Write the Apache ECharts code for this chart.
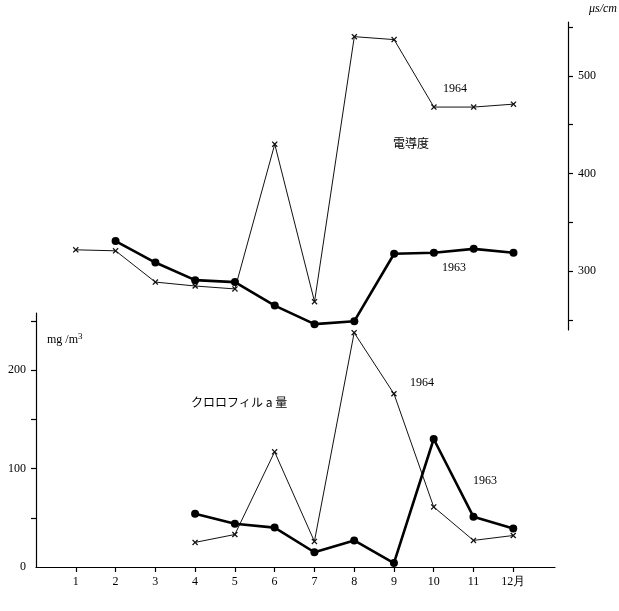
<!DOCTYPE html>
<html>
<head>
<meta charset="utf-8">
<script src="https://cdn.jsdelivr.net/npm/echarts@6/dist/echarts.min.js"></script>
<style>
  html, body { margin: 0; padding: 0; background: #fff; }
  #chart { width: 619px; height: 611px; }
</style>
</head>
<body>
<div id="chart"></div>
<script>
  // months 1..12
  const months = [1, 2, 3, 4, 5, 6, 7, 8, 9, 10, 11, 12];

  // conductivity (μs/cm)
  const cond1964 = [322, 321, 289, 285, 282, 430, 269, 540, 537, 468, 468, 471];
  const cond1963 = [null, 331, 309, 291, 289, 265, 246, 249, 318, 319, 323, 319];

  // chlorophyll a (mg/m3)
  const chl1964 = [null, null, null, 25, 33, 117, 26, 238, 176, 61, 27, 32];
  const chl1963 = [null, null, null, 54, 44, 40, 15, 27, 4, 130, 51, 39];

  const condTicks = [250, 300, 350, 400, 450, 500, 550];
  const condLabels = [300, 400, 500];
  const chlTicks = [50, 100, 150, 200, 250];
  const chlLabels = [0, 100, 200];

  const pair = (vals) => months.map((m, i) => [m, vals[i]]);

  const crossSym = 'path://M0,1.5L1.5,0L5,3.5L8.5,0L10,1.5L6.5,5L10,8.5L8.5,10L5,6.5L1.5,10L0,8.5L3.5,5Z';
  const serif = 'Liberation Serif';

  const thin = (name, data, xi, yi) => ({
    name: name, type: 'line', xAxisIndex: xi, yAxisIndex: yi,
    data: pair(data), symbol: crossSym, symbolSize: 6,
    lineStyle: { color: '#111', width: 1 },
    itemStyle: { color: '#111' },
    connectNulls: false, animation: false
  });
  const thick = (name, data, xi, yi) => ({
    name: name, type: 'line', xAxisIndex: xi, yAxisIndex: yi,
    data: pair(data), symbol: 'circle', symbolSize: 8,
    lineStyle: { color: '#000', width: 2.6 },
    itemStyle: { color: '#000' },
    connectNulls: false, animation: false
  });

  const lineStyle = { color: '#000', width: 1.2 };

  const chart = echarts.init(document.getElementById('chart'));
  chart.setOption({
    backgroundColor: '#fff',
    animation: false,
    grid: [
      { left: 36, right: 51, top: 22, bottom: 281 },
      { left: 36, right: 64, top: 313, bottom: 44 }
    ],
    xAxis: [
      { gridIndex: 0, type: 'value', min: 0, max: 13.37, show: false },
      {
        gridIndex: 1, type: 'value', min: 0, max: 13.05,
        axisLine: { onZero: false, lineStyle: lineStyle },
        axisTick: { customValues: months, length: 5, lineStyle: lineStyle },
        axisLabel: {
          customValues: months, color: '#000', fontFamily: serif, fontSize: 12, margin: 9,
          formatter: (v) => (v === 12 ? '12月' : String(v))
        },
        splitLine: { show: false }
      }
    ],
    yAxis: [
      {
        gridIndex: 0, type: 'value', position: 'right', min: 240, max: 555,
        axisLine: { show: true, onZero: false, lineStyle: lineStyle },
        axisTick: { show: true, customValues: condTicks, length: 5, lineStyle: lineStyle },
        axisLabel: { customValues: condLabels, color: '#000', fontFamily: serif, fontSize: 12, margin: 10 },
        splitLine: { show: false }
      },
      {
        gridIndex: 1, type: 'value', min: 0, max: 258,
        axisLine: { show: true, onZero: false, lineStyle: lineStyle },
        axisTick: { show: true, customValues: chlTicks, length: 5, lineStyle: lineStyle },
        axisLabel: { customValues: chlLabels, color: '#000', fontFamily: serif, fontSize: 12, margin: 10 },
        splitLine: { show: false }
      }
    ],
    graphic: [
      { type: 'text', left: 589, top: 3, style: { text: 'μs/cm', fill: '#000', font: 'italic 12px "Liberation Serif"' } },
      { type: 'text', left: 47, top: 332, style: {
          text: 'mg /m{s|3}', fill: '#000', font: '12px "Liberation Serif"',
          rich: { s: { fontSize: 9, verticalAlign: 'top', padding: [0, 0, 6, 0], fontFamily: serif } }
      } },
      { type: 'text', left: 443, top: 83, style: { text: '1964', fill: '#000', font: '12px "Liberation Serif"' } },
      { type: 'text', left: 393, top: 137, style: { text: '電導度', fill: '#000', font: '12px "Noto Sans CJK JP"' } },
      { type: 'text', left: 442, top: 262, style: { text: '1963', fill: '#000', font: '12px "Liberation Serif"' } },
      { type: 'text', left: 191, top: 396, style: { text: 'クロロフィル a 量', fill: '#000', font: '12px "Noto Sans CJK JP"' } },
      { type: 'text', left: 410, top: 377, style: { text: '1964', fill: '#000', font: '12px "Liberation Serif"' } },
      { type: 'text', left: 473, top: 475, style: { text: '1963', fill: '#000', font: '12px "Liberation Serif"' } }
    ],
    series: [
      thin('電導度 1964', cond1964, 0, 0),
      thick('電導度 1963', cond1963, 0, 0),
      thin('クロロフィル 1964', chl1964, 1, 1),
      thick('クロロフィル 1963', chl1963, 1, 1)
    ]
  });
</script>
</body>
</html>
